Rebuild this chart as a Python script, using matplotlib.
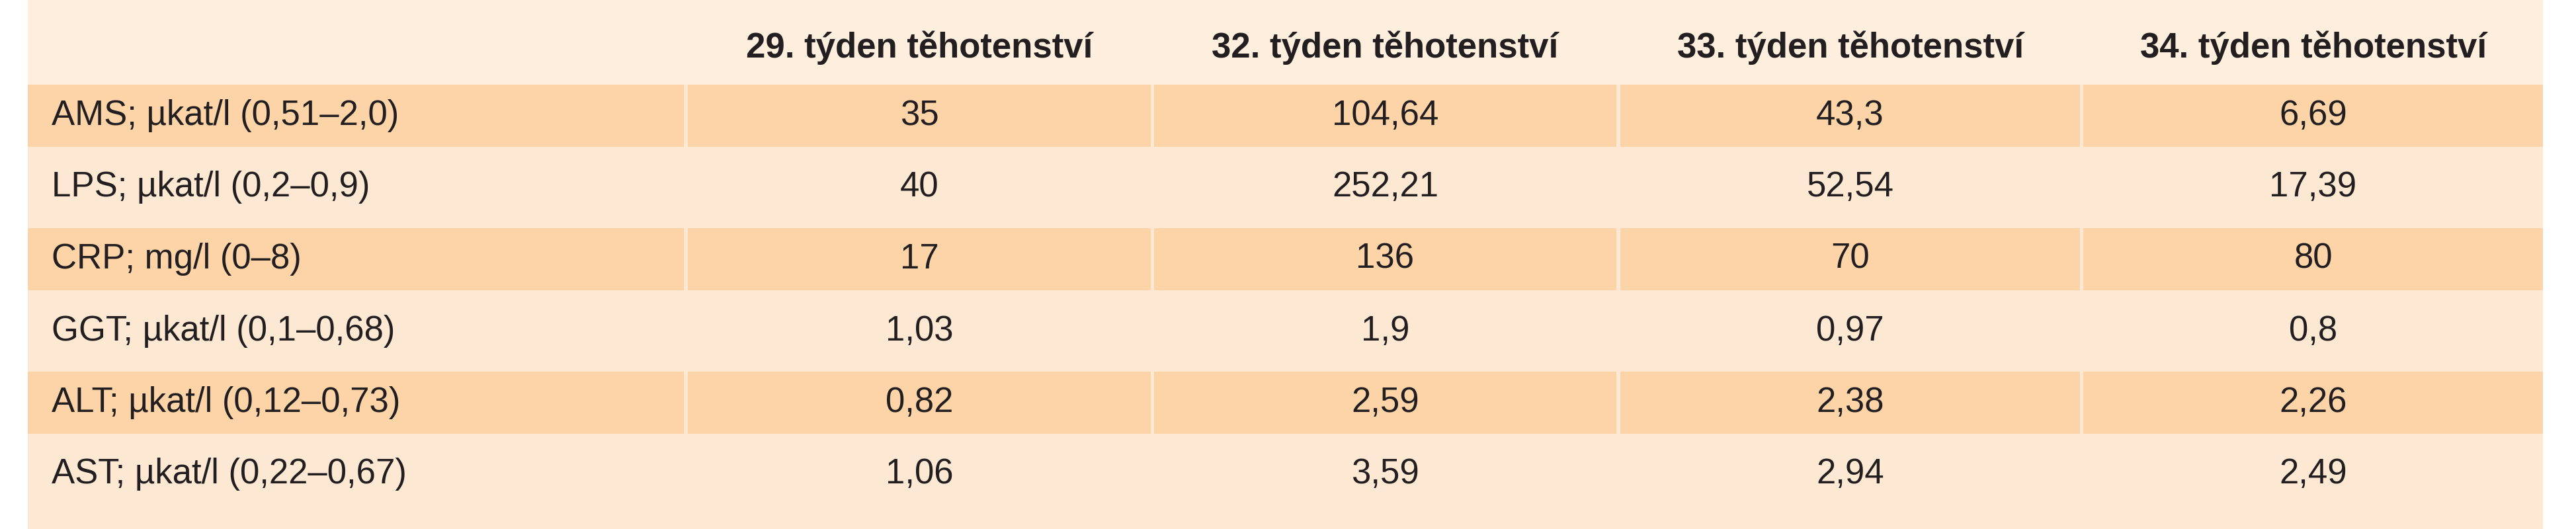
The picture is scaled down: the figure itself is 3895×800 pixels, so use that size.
import matplotlib.pyplot as plt
from matplotlib.patches import Rectangle

# table content
headers = ['29. týden těhotenství', '32. týden těhotenství',
           '33. týden těhotenství', '34. týden těhotenství']
row_labels = ['AMS; µkat/l (0,51–2,0)', 'LPS; µkat/l (0,2–0,9)', 'CRP; mg/l (0–8)',
              'GGT; µkat/l (0,1–0,68)', 'ALT; µkat/l (0,12–0,73)', 'AST; µkat/l (0,22–0,67)']
week29 = ['35', '40', '17', '1,03', '0,82', '1,06']
week32 = ['104,64', '252,21', '136', '1,9', '2,59', '3,59']
week33 = ['43,3', '52,54', '70', '0,97', '2,38', '2,94']
week34 = ['6,69', '17,39', '80', '0,8', '2,26', '2,49']
columns = [week29, week32, week33, week34]

fam = ['Liberation Sans Narrow', 'Liberation Sans', 'DejaVu Sans']
light = '#fde9d3'
dark = '#fcd4a8'

fig = plt.figure(figsize=(38.95, 8.0), dpi=100)
ax = fig.add_axes([0, 0, 1, 1])
ax.set_xlim(0, 3895)
ax.set_ylim(800, 0)
ax.axis('off')

ax.add_patch(Rectangle((42, 0), 3803, 800, color=light, lw=0))
ax.add_patch(Rectangle((42, 0), 3803, 128, color='#fdeedd', lw=0))

col_left = [42, 1040, 1745, 2450, 3150]
col_right = [1034, 1740, 2444, 3145, 3845]
header_y = 72
row_h = 108.5
first_c = 175

for j, h in enumerate(headers):
    cx = (col_left[j + 1] + col_right[j + 1]) / 2
    ax.text(cx, header_y, h, ha='center', va='center', fontsize=38,
            fontweight='bold', family=fam, color='#231f20')

for i, lab in enumerate(row_labels):
    cy = first_c + i * row_h
    if i % 2 == 0:
        for l, r in zip(col_left, col_right):
            ax.add_patch(Rectangle((l, cy - 47), r - l, 94, color=dark, lw=0))
    ax.text(78, cy, lab, ha='left', va='center', fontsize=38, family=fam, color='#231f20')
    for j, col in enumerate(columns):
        cx = (col_left[j + 1] + col_right[j + 1]) / 2
        ax.text(cx, cy, col[i], ha='center', va='center', fontsize=38,
                family=fam, color='#231f20')

fig.savefig('out.png', dpi=100)
